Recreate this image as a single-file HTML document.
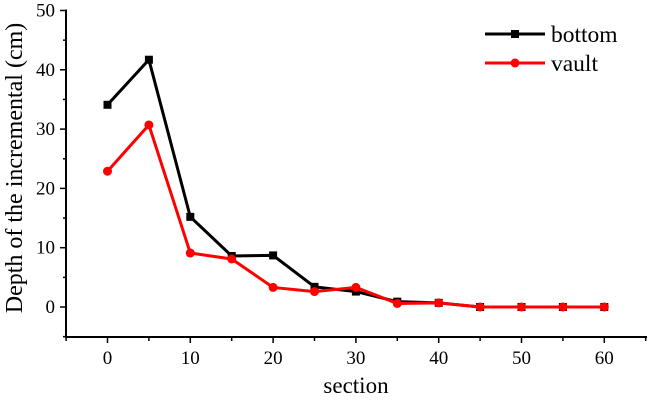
<!DOCTYPE html>
<html><head><meta charset="utf-8"><style>
body{margin:0;background:#fff}
svg text{font-family:"Liberation Serif",serif;fill:#000}
</style></head><body>
<svg width="648" height="402">
<g id="axes"></g><g id="series"></g>
<g>
<line x1="485" y1="34" x2="545" y2="34" stroke="#000" stroke-width="3"/>
<rect x="511" y="30" width="8" height="8" fill="#000"/>
<text x="551" y="42" font-size="23.5">bottom</text>
<line x1="485" y1="63" x2="545" y2="63" stroke="#f00" stroke-width="3"/>
<circle cx="515" cy="63" r="4.5" fill="#f00"/>
<text x="551" y="71" font-size="23.5">vault</text>
</g>
<text x="356" y="393" font-size="23" text-anchor="middle">section</text>
<text transform="translate(22,168) rotate(-90)" font-size="24" text-anchor="middle">Depth of the incremental (cm)</text>
</svg>
<script>
const sections=[0,5,10,15,20,25,30,35,40,45,50,55,60];
const bottomVals=[34.1,41.7,15.2,8.6,8.7,3.4,2.6,0.9,0.7,0,0,0,0];
const vaultVals=[22.9,30.7,9.1,8.1,3.3,2.6,3.3,0.6,0.7,0,0,0,0];
const xTicks=[0,10,20,30,40,50,60];
const yTicks=[0,10,20,30,40,50];
const X=v=>107.5+(v)*8.28;
const Y=v=>307-v*5.93;
const NS="http://www.w3.org/2000/svg";
function mk(t,a,p){const e=document.createElementNS(NS,t);for(const k in a)e.setAttribute(k,a[k]);p.appendChild(e);return e;}
const ax=document.getElementById('axes');
const yl=mk('line',{x1:66,y1:Y(50)-1,x2:66,y2:337,stroke:'#000','stroke-width':2},ax);


const xl=mk('line',{x1:65,y1:337,x2:647,y2:337,stroke:'#000','stroke-width':2},ax);


for(let v=-5;v<=50;v+=5){const major=v%10===0;mk('line',{x1:major?60:63,y1:Y(v),x2:66,y2:Y(v),stroke:'#000','stroke-width':1.5},ax);}
yTicks.forEach(v=>{const t=mk('text',{x:55,y:Y(v)+6,'font-size':19,'text-anchor':'end'},ax);t.textContent=v;

});
for(let v=-5;v<=65;v+=5){const major=v%10===0;if(X(v)>647)break;mk('line',{x1:X(v),y1:337,x2:X(v),y2:major?343:341,stroke:'#000','stroke-width':1.5},ax);}
xTicks.forEach(v=>{const t=mk('text',{x:X(v),y:364,'font-size':19,'text-anchor':'middle'},ax);t.textContent=v;

});
const sg=document.getElementById('series');
function draw(vals,color,sq,name){
 const pl=mk('polyline',{points:sections.map((s,i)=>X(s)+','+Y(vals[i])).join(' '),fill:'none',stroke:color,'stroke-width':3,'stroke-linejoin':'miter'},sg);
 
 
 sections.forEach((s,i)=>{let m;
  if(sq)m=mk('rect',{x:X(s)-4,y:Y(vals[i])-4,width:8,height:8,fill:color},sg);
  else m=mk('circle',{cx:X(s),cy:Y(vals[i]),r:4.5,fill:color},sg);
  
  });
}
draw(bottomVals,'#000',true,'bottom');
draw(vaultVals,'#f00',false,'vault');
</script>
</body></html>
